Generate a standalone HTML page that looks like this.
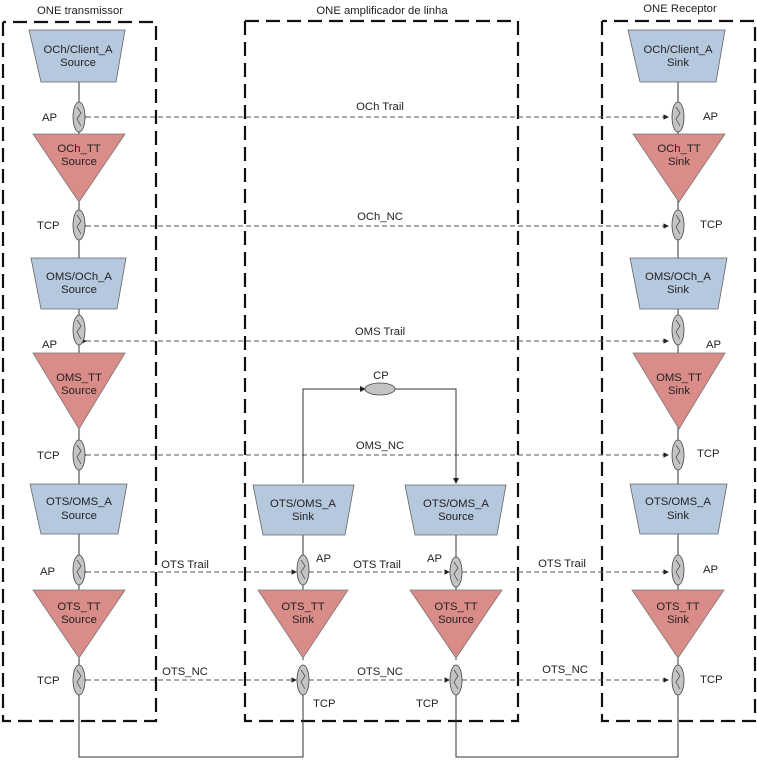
<!DOCTYPE html>
<html><head><meta charset="utf-8"><style>
body{margin:0;background:#fff}
text{font-family:"Liberation Sans",Arial,sans-serif;font-size:11.3px;fill:#222}
.c{text-anchor:middle}
.tr{fill:#b6c8dd;stroke:#666;stroke-width:0.8}
.tt{fill:#d98c88;stroke:#777;stroke-width:0.8}
.box{fill:none;stroke:#111;stroke-width:2.2;stroke-dasharray:14,7}
.d{stroke:#555;stroke-width:0.9;stroke-dasharray:5,3;fill:none}
.s{stroke:#333;stroke-width:1;fill:none}
</style></head><body>
<svg width="757" height="761" viewBox="0 0 757 761" xmlns="http://www.w3.org/2000/svg">
<defs>
<g id="e"><ellipse cx="0" cy="0" rx="6" ry="15" fill="#c4c4c4" stroke="#444" stroke-width="0.8"/><path d="M-2 -10 L2 -4 L-2 2 L2 9" stroke="#444" stroke-width="0.7" fill="none"/></g>
<marker id="a" markerWidth="6" markerHeight="6" refX="5" refY="3" orient="auto"><path d="M0 0L6 3L0 6z" fill="#222"/></marker>
</defs>
<rect x="0" y="0" width="757" height="761" fill="#fff"/>
<text class="c" x="80" y="14">ONE transmissor</text>
<text class="c" x="382" y="14">ONE amplificador de linha</text>
<text class="c" x="680" y="12">ONE Receptor</text>
<path class="box" d="M3 22 V721 H156 V22 H3"/>
<path class="box" d="M245 21 V721 H518 V21 H245"/>
<path class="box" d="M602 21 V721 H755 V21 H602"/>

<path class="d" d="M86 117 H668" marker-start="url(#a)" marker-end="url(#a)"/>
<text class="c" x="380" y="110">OCh Trail</text>
<path class="d" d="M86 226 H668" marker-start="url(#a)" marker-end="url(#a)"/>
<text class="c" x="380" y="220">OCh_NC</text>
<path class="d" d="M86 341 H668" marker-start="url(#a)" marker-end="url(#a)"/>
<text class="c" x="380" y="335">OMS Trail</text>
<path class="d" d="M86 455 H668" marker-start="url(#a)" marker-end="url(#a)"/>
<text class="c" x="380" y="449">OMS_NC</text>
<path class="d" d="M86 572 H296" marker-start="url(#a)" marker-end="url(#a)"/>
<path class="d" d="M309 572 H449" marker-start="url(#a)" marker-end="url(#a)"/>
<path class="d" d="M462 572 H668" marker-start="url(#a)" marker-end="url(#a)"/>
<text class="c" x="185" y="568">OTS Trail</text><text class="c" x="377" y="568">OTS Trail</text><text class="c" x="562" y="567">OTS Trail</text>
<path class="d" d="M86 680 H296" marker-start="url(#a)" marker-end="url(#a)"/>
<path class="d" d="M309 680 H449" marker-start="url(#a)" marker-end="url(#a)"/>
<path class="d" d="M462 680 H668" marker-start="url(#a)" marker-end="url(#a)"/>
<text class="c" x="185" y="675">OTS_NC</text><text class="c" x="380" y="675">OTS_NC</text><text class="c" x="565" y="673">OTS_NC</text>

<path class="s" d="M79 82 V725 V757 H303 V695"/>
<path class="s" d="M456 692 V757 H678 V695"/>
<path class="s" d="M678 82 V692"/>
<path class="s" d="M303 535 V660"/>
<path class="s" d="M456 535 V660"/>
<path class="s" d="M303 483 V389 H365" marker-end="url(#a)"/>
<path class="s" d="M395 389 H456 V483" marker-end="url(#a)"/>
<ellipse cx="380" cy="389" rx="15" ry="6" fill="#c4c4c4" stroke="#444" stroke-width="0.8"/>
<text class="c" x="381" y="379">CP</text>

<polygon class="tr" points="29,30 125,30 116,82 41,82"/>
<text class="c" x="78" y="53">OCh/Client_A</text><text class="c" x="78" y="66">Source</text>
<polygon class="tt" points="33,134 125,134 79,202"/>
<text class="c" x="79" y="152">OCh_TT</text><text class="c" x="79" y="165">Source</text>
<polygon class="tr" points="31,258 126,258 117,309 41,309"/>
<text class="c" x="79" y="280">OMS/OCh_A</text><text class="c" x="79" y="293">Source</text>
<polygon class="tt" points="33,353 125,353 79,429"/>
<text class="c" x="79" y="381">OMS_TT</text><text class="c" x="79" y="394">Source</text>
<polygon class="tr" points="30,484 127,484 118,534 41,534"/>
<text class="c" x="79" y="505">OTS/OMS_A</text><text class="c" x="79" y="519">Source</text>
<polygon class="tt" points="33,590 125,590 79,658"/>
<text class="c" x="79" y="610">OTS_TT</text><text class="c" x="79" y="623">Source</text>
<use href="#e" x="79" y="117"/><use href="#e" x="79" y="225"/><use href="#e" x="79" y="330"/><use href="#e" x="79" y="455"/><use href="#e" x="79" y="570"/><use href="#e" x="79" y="680"/>
<text x="42" y="121">AP</text><text x="37" y="229">TCP</text><text x="42" y="348">AP</text><text x="37" y="459">TCP</text><text x="40" y="575">AP</text><text x="37" y="684">TCP</text>

<polygon class="tr" points="253,485 354,485 345,535 263,535"/>
<text class="c" x="303" y="507">OTS/OMS_A</text><text class="c" x="303" y="520">Sink</text>
<polygon class="tr" points="405,485 506,485 497,535 415,535"/>
<text class="c" x="456" y="507">OTS/OMS_A</text><text class="c" x="456" y="520">Source</text>
<polygon class="tt" points="258,590 348,590 303,658"/>
<text class="c" x="303" y="610">OTS_TT</text><text class="c" x="303" y="623">Sink</text>
<polygon class="tt" points="410,590 502,590 456,658"/>
<text class="c" x="456" y="610">OTS_TT</text><text class="c" x="456" y="623">Source</text>
<use href="#e" x="303" y="570"/><use href="#e" x="456" y="572"/><use href="#e" x="303" y="680"/><use href="#e" x="456" y="680"/>
<text x="316" y="562">AP</text><text x="427" y="562">AP</text><text x="313" y="707">TCP</text><text x="416" y="707">TCP</text>

<polygon class="tr" points="628,30 725,30 716,82 640,82"/>
<text class="c" x="678" y="53">OCh/Client_A</text><text class="c" x="678" y="66">Sink</text>
<polygon class="tt" points="633,134 725,134 679,202"/>
<text class="c" x="679" y="152">OCh_TT</text><text class="c" x="679" y="165">Sink</text>
<polygon class="tr" points="630,258 727,258 718,309 640,309"/>
<text class="c" x="678" y="280">OMS/OCh_A</text><text class="c" x="678" y="293">Sink</text>
<polygon class="tt" points="633,353 725,353 679,429"/>
<text class="c" x="679" y="381">OMS_TT</text><text class="c" x="679" y="394">Sink</text>
<polygon class="tr" points="630,484 727,484 718,534 640,534"/>
<text class="c" x="678" y="505">OTS/OMS_A</text><text class="c" x="678" y="519">Sink</text>
<polygon class="tt" points="632,590 724,590 678,658"/>
<text class="c" x="678" y="610">OTS_TT</text><text class="c" x="678" y="623">Sink</text>
<use href="#e" x="678" y="117"/><use href="#e" x="678" y="225"/><use href="#e" x="678" y="330"/><use href="#e" x="678" y="455"/><use href="#e" x="678" y="570"/><use href="#e" x="678" y="680"/>
<text x="703" y="120">AP</text><text x="700" y="228">TCP</text><text x="706" y="348">AP</text><text x="697" y="457">TCP</text><text x="703" y="573">AP</text><text x="700" y="683">TCP</text>
</svg>
</body></html>
